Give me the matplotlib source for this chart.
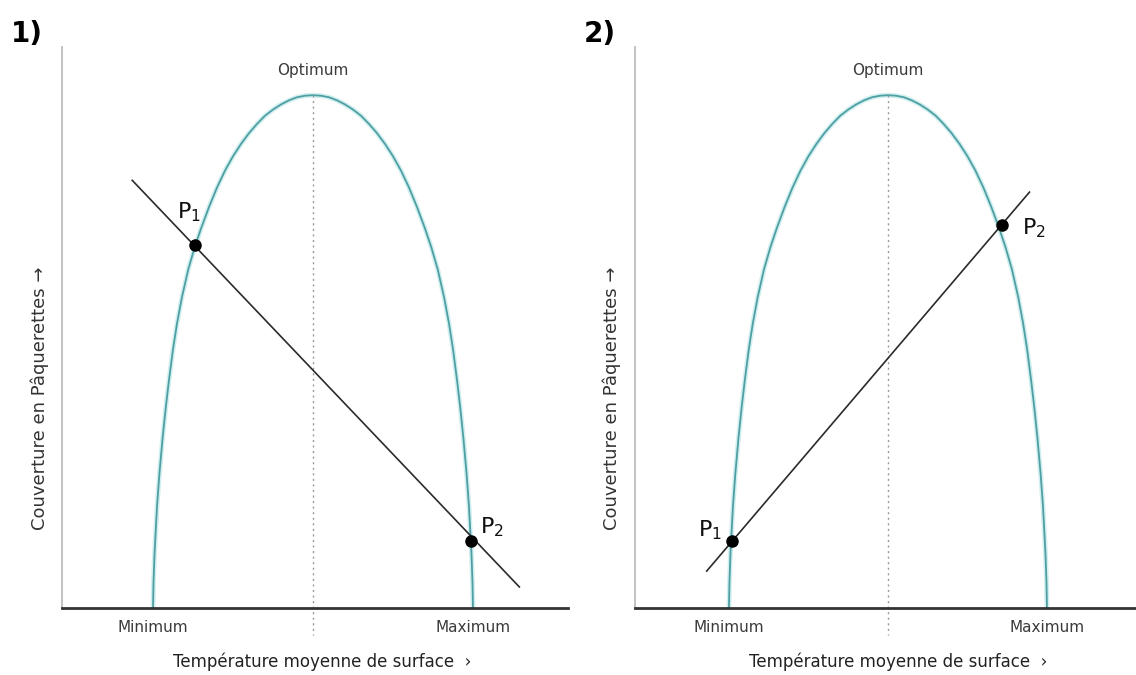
import matplotlib
matplotlib.use("Agg")
import matplotlib.pyplot as plt

# temperature scale : Minimum = 10, Optimum = 20, Maximum = 30
tempTicks = [10, 30]
tempTickLabels = ["Minimum", "Maximum"]
optimumTemp = 20

# growth curve (daisy cover vs temperature)
curveTemp = [10.0, 10.03, 10.1, 10.25, 10.4, 10.6, 10.8, 11.0, 11.25, 11.5,
             11.8, 12.2, 12.6, 13.0, 13.5, 14.0, 14.5, 15.0, 15.5, 16.0,
             16.5, 17.0, 17.5, 18.0, 18.5, 19.0, 19.5, 20.0,
             20.5, 21.0, 21.5, 22.0, 22.5, 23.0, 23.5, 24.0, 24.5, 25.0,
             25.5, 26.0, 26.5, 27.0, 27.4, 27.8, 28.2, 28.5, 28.75, 29.0,
             29.2, 29.4, 29.6, 29.75, 29.9, 29.97, 30.0]
curveCover = [0.0, 0.05, 0.11, 0.198, 0.262, 0.332, 0.392, 0.445, 0.505, 0.555,
              0.605, 0.660, 0.703, 0.740, 0.782, 0.820, 0.853, 0.881, 0.905, 0.926,
              0.944, 0.960, 0.972, 0.982, 0.990, 0.996, 0.999, 1.0,
              0.999, 0.996, 0.990, 0.982, 0.972, 0.960, 0.944, 0.926, 0.905, 0.881,
              0.853, 0.820, 0.782, 0.740, 0.703, 0.660, 0.605, 0.555, 0.505, 0.445,
              0.392, 0.332, 0.262, 0.198, 0.11, 0.05, 0.0]

# panel 1 : decreasing line
line1Temp = [8.7, 32.9]
line1Cover = [0.834, 0.041]
pts1Temp = [12.6, 29.9]
pts1Cover = [0.708, 0.131]
pts1Names = [r"$\mathregular{P_1}$", r"$\mathregular{P_2}$"]

# panel 2 : increasing line
line2Temp = [8.6, 28.9]
line2Cover = [0.072, 0.811]
pts2Temp = [10.2, 27.2]
pts2Cover = [0.131, 0.747]
pts2Names = [r"$\mathregular{P_1}$", r"$\mathregular{P_2}$"]

W, H = 1136, 675
fig = plt.figure(figsize=(W / 100, H / 100), dpi=100)
fig.patch.set_facecolor("white")

curveColor = "#4e9fa3"
textColor = "#3a3a3a"


def draw_panel(rect, xlim, lineT, lineC, ptsT, ptsC, names, offsets):
    ax = fig.add_axes(rect)
    ax.set_xlim(xlim)
    ax.set_ylim(0, 1.094)
    # curve with a light halo
    ax.plot(curveTemp, curveCover, color="#d2eff0", lw=3.5, solid_capstyle="butt")
    ax.plot(curveTemp, curveCover, color=curveColor, lw=1.3)
    # dotted line at optimum
    ax.plot([optimumTemp, optimumTemp], [1.0, -0.053], color="#9a9a9a",
            lw=1, linestyle=(0, (1.5, 2.5)), clip_on=False)
    ax.plot(lineT, lineC, color="#2b2b2b", lw=1.2)
    ax.plot(ptsT, ptsC, "o", color="black", markersize=8)
    for t, c, name, off in zip(ptsT, ptsC, names, offsets):
        ax.annotate(name, (t, c), xytext=off, textcoords="offset pixels",
                    ha="center", va="center", fontsize=16, color="#111111")
    ax.text(optimumTemp, 1.0 + 25 / 513, "Optimum", ha="center", va="center",
            fontsize=11, color=textColor)
    ax.set_xticks(tempTicks)
    ax.set_xticklabels(tempTickLabels, fontsize=11, color=textColor)
    ax.tick_params(axis="x", length=0, pad=9)
    ax.set_yticks([])
    for s in ["top", "right"]:
        ax.spines[s].set_visible(False)
    ax.spines["left"].set_color("#bdbdbd")
    ax.spines["left"].set_linewidth(1.3)
    ax.spines["bottom"].set_color("#333333")
    ax.spines["bottom"].set_linewidth(2)
    return ax


ax1 = draw_panel([62 / W, 67 / H, 506 / W, 561 / H], (4.31, 35.94),
                 line1Temp, line1Cover, pts1Temp, pts1Cover, pts1Names,
                 [(-6, 33), (21, 14)])
ax2 = draw_panel([635 / W, 67 / H, 501 / W, 561 / H], (4.09, 35.6),
                 line2Temp, line2Cover, pts2Temp, pts2Cover, pts2Names,
                 [(-22, 11), (31, -3)])

# axis titles
for xc, yc in [(322, 662), (898, 662)]:
    fig.text(xc / W, 1 - yc / H, "Température moyenne de surface  \u203a",
             ha="center", va="center", fontsize=12, color="#222222")
for xc in [40, 612]:
    fig.text(xc / W, 1 - 398 / H, "Couverture en Pâquerettes \u2192",
             ha="center", va="center", rotation=90, fontsize=13, color="#333333")

# panel numbers
fig.text(27 / W, 1 - 34 / H, "1)", ha="center", va="center", fontsize=20,
         fontweight="bold")
fig.text(600 / W, 1 - 34 / H, "2)", ha="center", va="center", fontsize=20,
         fontweight="bold")

fig.savefig("out.png", dpi=100, facecolor="white")
